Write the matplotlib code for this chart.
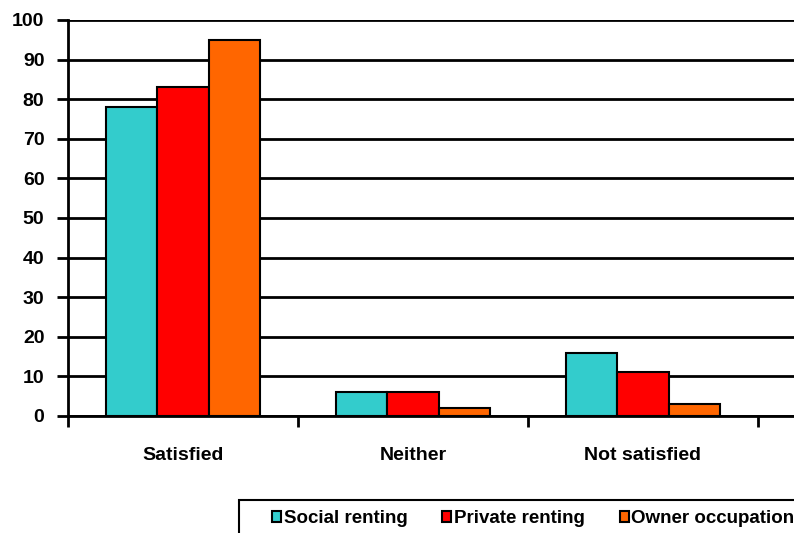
import matplotlib
matplotlib.use("Agg")
import matplotlib.pyplot as plt
from matplotlib.patches import Rectangle
import numpy as np

categories = ["Satisfied", "Neither", "Not satisfied"]
series_names = ["Social renting", "Private renting", "Owner occupation"]
social = [78, 6, 16]
private = [83, 6, 11]
owner = [95, 2, 3]
colors = ["#33CCCC", "#FF0000", "#FF6600"]
yticks = [0, 10, 20, 30, 40, 50, 60, 70, 80, 90, 100]

plt.rcParams['font.family'] = ['Liberation Sans', 'DejaVu Sans']
plt.rcParams['font.weight'] = 'bold'

W, H = 794, 533
fig = plt.figure(figsize=(W / 100, H / 100), dpi=100)
left_px, right_px, top_px, bot_px = 68, 800, 20, 416
ax = fig.add_axes([left_px / W, 1 - bot_px / H, (right_px - left_px) / W, (bot_px - top_px) / H])

x = np.arange(len(categories))
bw = 0.222
for i, (vals, c, name) in enumerate(zip([social, private, owner], colors, series_names)):
    ax.bar(x + (i - 1) * bw, vals, width=bw, color=c, edgecolor="black", linewidth=1.5,
           label=name, zorder=3)

ax.set_ylim(0, 100)
ax.set_xlim(-0.5, -0.5 + (right_px - left_px) / 230)
ax.set_yticks(yticks)
ax.yaxis.grid(True, color="black", linewidth=2, zorder=0)
ax.set_axisbelow(True)
ax.tick_params(axis='y', length=8, width=2, direction='out', labelsize=14, pad=9)
for lab in ax.get_yticklabels():
    lab.set_fontweight('bold')

ax.set_xticks([-0.5, 0.5, 1.5, 2.5])
ax.set_xticklabels([])
ax.tick_params(axis='x', length=8, width=2, direction='out')
ax.set_xticks(x, minor=True)
ax.set_xticklabels(categories, minor=True, fontsize=14, fontweight='bold')
ax.tick_params(axis='x', which='minor', length=0, pad=22)

for s in ['top', 'right']:
    ax.spines[s].set_visible(False)
ax.spines['left'].set_linewidth(2)
ax.spines['bottom'].set_linewidth(2)
ax.spines['bottom'].set_zorder(4)

# legend frame (extends past the figure edge, as in the reference)
frame = Rectangle((239 / W, -0.05), (820 - 239) / W, 0.05 + (533 - 500) / H,
                  transform=fig.transFigure, fill=False, edgecolor='black',
                  linewidth=1.5, clip_on=False)
fig.patches.append(frame)

leg = fig.legend(loc='upper left', bbox_to_anchor=(272 / W, 1 - 510 / H), ncol=3,
                 fontsize=13.5, frameon=False,
                 handlelength=0.48, handleheight=0.48, handletextpad=0.15,
                 columnspacing=1.85, borderpad=0, borderaxespad=0)
for t in leg.get_texts():
    t.set_fontweight('bold')

fig.savefig("out.png", dpi=100)
